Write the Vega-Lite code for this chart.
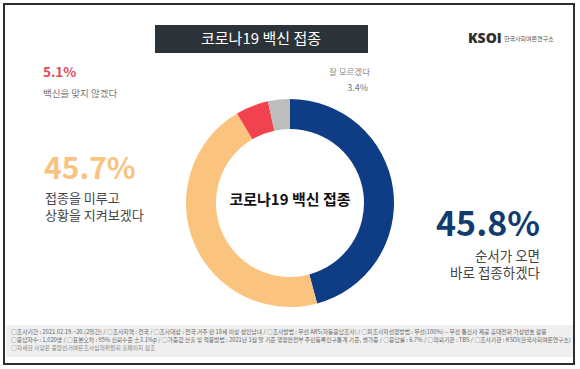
{
  "$schema": "https://vega.github.io/schema/vega-lite/v6.json",
  "width": 580,
  "height": 369,
  "autosize": {"type": "fit", "contains": "padding"},
  "padding": 0,
  "background": "white",
  "view": {"stroke": null},
  "config": {"text": {"font": "Noto Sans CJK KR"}},
  "data": {"values": [
    {"answer": "순서가 오면 바로 접종하겠다", "label": "순서가 오면\n바로 접종하겠다", "share": 0.458, "k": 1},
    {"answer": "접종을 미루고 상황을 지켜보겠다", "label": "접종을 미루고\n상황을 지켜보겠다", "share": 0.457, "k": 2},
    {"answer": "백신을 맞지 않겠다", "label": "백신을 맞지 않겠다", "share": 0.051, "k": 3},
    {"answer": "잘 모르겠다", "label": "잘 모르겠다", "share": 0.034, "k": 4}
  ]},
  "layer": [
    {"data": {"values": [{}]}, "mark": {"type": "rect", "x": 3, "y": 3, "x2": 573, "y2": 363, "fill": "white", "stroke": "#2b2f33", "strokeWidth": 2}, "encoding": {}},
    {"data": {"values": [{}]}, "mark": {"type": "rect", "x": 5, "y": 324, "x2": 572, "y2": 356, "fill": "#efefef"}, "encoding": {}},
    {"data": {"values": [{}]}, "mark": {"type": "rect", "x": 154, "y": 24, "x2": 367, "y2": 52, "fill": "#2b3238"}, "encoding": {}},
    {"data": {"values": [{}]}, "mark": {"type": "text", "x": 260, "y": 38, "text": "코로나19 백신 접종", "align": "center", "baseline": "middle", "fontSize": 15, "color": "white"}, "encoding": {}},
    {"data": {"values": [{}]}, "mark": {"type": "text", "x": 467, "y": 38, "text": "KSOI", "align": "left", "baseline": "middle", "fontSize": 14, "fontWeight": 900, "font": "Open Sans", "color": "#2f2f2f"}, "encoding": {}},
    {"data": {"values": [{}]}, "mark": {"type": "rule", "x": 496, "y": 30, "x2": 499, "y2": 25, "stroke": "#f0a020", "strokeWidth": 2}, "encoding": {}},
    {"data": {"values": [{}]}, "mark": {"type": "text", "x": 503, "y": 38, "text": "한국사회여론연구소", "align": "left", "baseline": "middle", "fontSize": 6, "color": "#555"}, "encoding": {}},
    {
      "mark": {"type": "arc", "x": 289, "y": 202, "outerRadius": 104, "innerRadius": 74},
      "encoding": {
        "theta": {"field": "share", "type": "quantitative", "stack": true},
        "order": {"field": "k", "type": "quantitative"},
        "color": {"field": "answer", "type": "nominal", "legend": null,
          "scale": {"domain": ["순서가 오면 바로 접종하겠다", "접종을 미루고 상황을 지켜보겠다", "백신을 맞지 않겠다", "잘 모르겠다"],
                    "range": ["#0e3d85", "#fbc47e", "#f0434f", "#bdbdbd"]}}
      }
    },
    {"data": {"values": [{}]}, "mark": {"type": "text", "x": 289, "y": 199, "text": "코로나19 백신 접종", "align": "center", "baseline": "middle", "fontSize": 15, "fontWeight": "bold", "color": "#111"}, "encoding": {}},
    {"data": {"values": [{}]}, "mark": {"type": "rule", "x": 42, "y": 82, "x2": 255, "y2": 82, "stroke": "#b8b8b8", "strokeWidth": 1}, "encoding": {}},
    {"data": {"values": [{}]}, "mark": {"type": "rule", "x": 255, "y": 82, "x2": 260, "y2": 99, "stroke": "#b8b8b8", "strokeWidth": 1}, "encoding": {}},
    {"data": {"values": [{}]}, "mark": {"type": "rule", "x": 43, "y": 185, "x2": 187, "y2": 185, "stroke": "#b8b8b8", "strokeWidth": 1}, "encoding": {}},
    {"data": {"values": [{}]}, "mark": {"type": "rule", "x": 285, "y": 78, "x2": 370, "y2": 78, "stroke": "#b8b8b8", "strokeWidth": 1}, "encoding": {}},
    {"data": {"values": [{}]}, "mark": {"type": "rule", "x": 285, "y": 78, "x2": 285, "y2": 98, "stroke": "#b8b8b8", "strokeWidth": 1}, "encoding": {}},
    {"data": {"values": [{}]}, "mark": {"type": "rule", "x": 382, "y": 244, "x2": 540, "y2": 244, "stroke": "#b8b8b8", "strokeWidth": 1}, "encoding": {}},
    {"transform": [{"filter": "datum.k == 1"}], "mark": {"type": "text", "x": 539, "y": 235, "align": "right", "baseline": "alphabetic", "fontSize": 34, "fontWeight": "bold", "color": "#123c6e"}, "encoding": {"text": {"field": "share", "type": "quantitative", "format": ".1%"}}},
    {"transform": [{"filter": "datum.k == 2"}], "mark": {"type": "text", "x": 43, "y": 178, "align": "left", "baseline": "alphabetic", "fontSize": 30, "fontWeight": "bold", "color": "#f8c47f"}, "encoding": {"text": {"field": "share", "type": "quantitative", "format": ".1%"}}},
    {"transform": [{"filter": "datum.k == 3"}], "mark": {"type": "text", "x": 42, "y": 72, "align": "left", "baseline": "middle", "fontSize": 13.5, "fontWeight": "bold", "color": "#e24b5b"}, "encoding": {"text": {"field": "share", "type": "quantitative", "format": ".1%"}}},
    {"transform": [{"filter": "datum.k == 4"}], "mark": {"type": "text", "x": 367, "y": 87, "align": "right", "baseline": "middle", "fontSize": 9, "color": "#777"}, "encoding": {"text": {"field": "share", "type": "quantitative", "format": ".1%"}}},
    {"transform": [{"filter": "datum.k == 1"}], "mark": {"type": "text", "x": 539, "y": 249, "align": "right", "baseline": "top", "fontSize": 13.5, "lineHeight": 17, "lineBreak": "\n", "color": "#444"}, "encoding": {"text": {"field": "label", "type": "nominal"}}},
    {"transform": [{"filter": "datum.k == 2"}], "mark": {"type": "text", "x": 44, "y": 192, "align": "left", "baseline": "top", "fontSize": 13, "lineHeight": 17, "lineBreak": "\n", "color": "#444"}, "encoding": {"text": {"field": "label", "type": "nominal"}}},
    {"transform": [{"filter": "datum.k == 3"}], "mark": {"type": "text", "x": 42, "y": 93, "align": "left", "baseline": "middle", "fontSize": 9.5, "color": "#777"}, "encoding": {"text": {"field": "label", "type": "nominal"}}},
    {"transform": [{"filter": "datum.k == 4"}], "mark": {"type": "text", "x": 369, "y": 71, "align": "right", "baseline": "middle", "fontSize": 8.5, "color": "#888"}, "encoding": {"text": {"field": "label", "type": "nominal"}}},
    {"data": {"values": [{}]}, "mark": {"type": "text", "x": 10, "y": 331, "align": "left", "baseline": "middle", "fontSize": 5.8, "color": "#666", "text": "○조사기간 : 2021.02.19.~20.(2일간)  /  ○조사지역 : 전국  /  ○조사대상 : 전국 거주 만 18세 이상 성인남녀  /  ○조사방법 : 무선 ARS(자동응답조사)  /  ○피조사자선정방법 : 무선(100%) – 무선 통신사 제공 휴대전화 가상번호 활용"}, "encoding": {}},
    {"data": {"values": [{}]}, "mark": {"type": "text", "x": 10, "y": 339, "align": "left", "baseline": "middle", "fontSize": 5.8, "color": "#666", "text": "○응답자수 : 1,020명 / ○표본오차 : 95% 신뢰수준 ±3.1%p / ○가중값 산출 및 적용방법 : 2021년 1월 말 기준 행정안전부 주민등록인구통계 기준, 셀가중 / ○응답률 : 6.7% / ○의뢰기관 : TBS / ○조사기관 : KSOI(한국사회여론연구소)"}, "encoding": {}},
    {"data": {"values": [{}]}, "mark": {"type": "text", "x": 10, "y": 347, "align": "left", "baseline": "middle", "fontSize": 5.8, "color": "#888", "text": "○자세한 사항은 중앙선거여론조사심의위원회 홈페이지 참조"}, "encoding": {}}
  ]
}
